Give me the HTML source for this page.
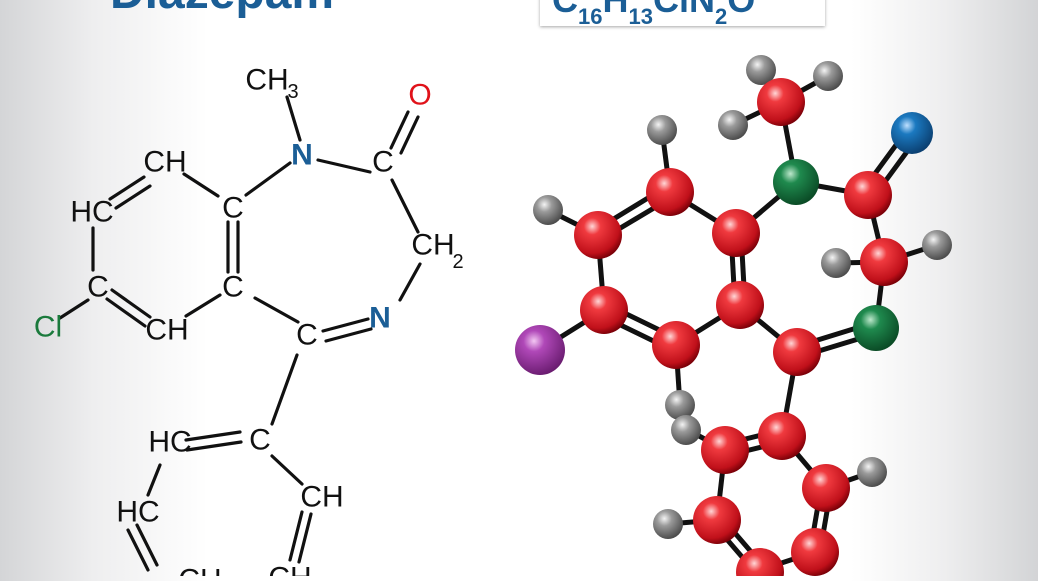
<!DOCTYPE html>
<html><head><meta charset="utf-8"><style>
html,body{margin:0;padding:0;}
body{width:1038px;height:576px;overflow:hidden;background:linear-gradient(90deg,#d4d5d7 0%,#eeeeef 9%,#fff 20%,#fff 82%,#eeeeef 91%,#d3d4d6 100%);}
</style></head><body>
<svg width="1038" height="576" viewBox="0 0 1038 576" xmlns="http://www.w3.org/2000/svg">
<defs>
<radialGradient id="r" cx="0.38" cy="0.32" r="0.7"><stop offset="0" stop-color="#ffd6d6"/><stop offset="0.25" stop-color="#f03a3f"/><stop offset="0.8" stop-color="#c0101a"/><stop offset="1" stop-color="#7a0008"/></radialGradient>
<radialGradient id="g" cx="0.38" cy="0.32" r="0.7"><stop offset="0" stop-color="#bde8cc"/><stop offset="0.3" stop-color="#1f8a4e"/><stop offset="1" stop-color="#0a4a25"/></radialGradient>
<radialGradient id="b" cx="0.38" cy="0.32" r="0.7"><stop offset="0" stop-color="#bfe0ff"/><stop offset="0.3" stop-color="#1b79c0"/><stop offset="1" stop-color="#0b3f70"/></radialGradient>
<radialGradient id="p" cx="0.38" cy="0.32" r="0.7"><stop offset="0" stop-color="#f3c7f3"/><stop offset="0.3" stop-color="#b048b8"/><stop offset="1" stop-color="#6a1c70"/></radialGradient>
<radialGradient id="h" cx="0.38" cy="0.32" r="0.7"><stop offset="0" stop-color="#f4f4f4"/><stop offset="0.35" stop-color="#9a9a9a"/><stop offset="1" stop-color="#4a4a4a"/></radialGradient>
<filter id="sh" x="-5%" y="-30%" width="110%" height="160%"><feDropShadow dx="0" dy="1" stdDeviation="1.5" flood-opacity="0.35"/></filter>
</defs>

<text x="110" y="8" font-family="Liberation Sans" font-weight="bold" font-size="48" fill="#1b5e96">Diazepam</text>
<rect x="540" y="-6" width="285" height="32" fill="#fff" filter="url(#sh)"/>
<text x="552" y="12" font-family="Liberation Sans" font-weight="bold" font-size="36" fill="#1b5e96">C<tspan font-size="22" dy="12">16</tspan><tspan dy="-12">H</tspan><tspan font-size="22" dy="12">13</tspan><tspan dy="-12">ClN</tspan><tspan font-size="22" dy="12">2</tspan><tspan dy="-12">O</tspan></text>

<g stroke="#111" stroke-width="3.2" stroke-linecap="round" fill="none">
<line x1="287" y1="97" x2="300" y2="140"/>
<line x1="318" y1="160" x2="370" y2="172"/>
<line x1="391" y1="148" x2="408" y2="112"/><line x1="401" y1="153" x2="418" y2="117"/>
<line x1="392" y1="180" x2="418" y2="232"/>
<line x1="420" y1="264" x2="400" y2="300"/>
<line x1="323" y1="331" x2="368" y2="319"/><line x1="326" y1="341" x2="371" y2="329"/>
<line x1="298" y1="322" x2="255" y2="298"/>
<line x1="228" y1="222" x2="228" y2="272"/><line x1="238" y1="222" x2="238" y2="272"/>
<line x1="246" y1="195" x2="290" y2="163"/>
<line x1="218" y1="196" x2="184" y2="174"/>
<line x1="144" y1="177" x2="110" y2="199"/><line x1="150" y1="186" x2="116" y2="208"/>
<line x1="93" y1="228" x2="93" y2="270"/>
<line x1="112" y1="290" x2="150" y2="317"/><line x1="107" y1="299" x2="145" y2="326"/>
<line x1="186" y1="316" x2="220" y2="295"/>
<line x1="60" y1="318" x2="88" y2="300"/>
<line x1="297" y1="355" x2="272" y2="424"/>
<line x1="186" y1="440" x2="240" y2="432"/><line x1="187" y1="450" x2="241" y2="442"/>
<line x1="272" y1="456" x2="302" y2="484"/>
<line x1="302" y1="512" x2="290" y2="560"/><line x1="311" y1="514" x2="299" y2="562"/>
<line x1="160" y1="465" x2="148" y2="495"/>
<line x1="128" y1="530" x2="148" y2="570"/><line x1="137" y1="525" x2="157" y2="565"/>
</g>
<g font-family="Liberation Sans" font-size="30" fill="#111" text-anchor="middle" dominant-baseline="central">
<text x="267" y="80">CH</text><text x="293" y="92" font-size="20">3</text>
<text x="420" y="95" fill="#e0121a">O</text>
<text x="302" y="155" fill="#1b5e96" font-weight="bold">N</text>
<text x="383" y="162">C</text>
<text x="165" y="162">CH</text>
<text x="92" y="212">HC</text>
<text x="233" y="208">C</text>
<text x="433" y="245">CH</text><text x="458" y="262" font-size="20">2</text>
<text x="98" y="287">C</text>
<text x="233" y="287">C</text>
<text x="48" y="327" fill="#1a7a3c">Cl</text>
<text x="167" y="330">CH</text>
<text x="307" y="335">C</text>
<text x="380" y="318" fill="#1b5e96" font-weight="bold">N</text>
<text x="260" y="440">C</text>
<text x="170" y="442">HC</text>
<text x="322" y="497">CH</text>
<text x="138" y="512">HC</text>
<text x="200" y="580">CH</text><text x="290" y="578">CH</text>
</g>

<g stroke="#111" stroke-width="5" stroke-linecap="round">
<line x1="781" y1="102" x2="761" y2="70"/><line x1="781" y1="102" x2="828" y2="76"/><line x1="781" y1="102" x2="733" y2="125"/>
<line x1="781" y1="102" x2="796" y2="182"/>
<line x1="796" y1="182" x2="736" y2="233"/><line x1="796" y1="182" x2="868" y2="195"/>
<line x1="863" y1="190" x2="907" y2="130"/><line x1="873" y1="198" x2="917" y2="138"/>
<line x1="868" y1="195" x2="884" y2="262"/>
<line x1="884" y1="262" x2="836" y2="263"/><line x1="884" y1="262" x2="937" y2="245"/>
<line x1="884" y1="262" x2="876" y2="328"/>
<line x1="876" y1="322" x2="795" y2="347"/><line x1="878" y1="333" x2="799" y2="357"/>
<line x1="797" y1="352" x2="740" y2="305"/>
<line x1="731" y1="233" x2="735" y2="305"/><line x1="741" y1="233" x2="745" y2="305"/>
<line x1="736" y1="233" x2="670" y2="192"/>
<line x1="670" y1="192" x2="662" y2="130"/>
<line x1="666" y1="187" x2="594" y2="231"/><line x1="674" y1="196" x2="602" y2="239"/>
<line x1="598" y1="235" x2="548" y2="210"/>
<line x1="598" y1="235" x2="604" y2="310"/>
<line x1="604" y1="310" x2="540" y2="350"/>
<line x1="600" y1="315" x2="672" y2="350"/><line x1="608" y1="305" x2="680" y2="340"/>
<line x1="676" y1="345" x2="740" y2="305"/>
<line x1="676" y1="345" x2="680" y2="405"/>
<line x1="797" y1="352" x2="782" y2="436"/>
<line x1="778" y1="431" x2="721" y2="445"/><line x1="786" y1="441" x2="729" y2="455"/>
<line x1="782" y1="436" x2="826" y2="488"/>
<line x1="826" y1="488" x2="872" y2="472"/>
<line x1="821" y1="488" x2="810" y2="552"/><line x1="831" y1="488" x2="820" y2="552"/>
<line x1="725" y1="450" x2="688" y2="430"/>
<line x1="725" y1="450" x2="717" y2="520"/>
<line x1="717" y1="520" x2="668" y2="524"/>
<line x1="712" y1="522" x2="755" y2="572"/><line x1="722" y1="518" x2="765" y2="568"/>
<line x1="760" y1="570" x2="815" y2="552"/>
</g>
<g>
<circle cx="761" cy="70" r="15" fill="url(#h)"/><circle cx="828" cy="76" r="15" fill="url(#h)"/><circle cx="733" cy="125" r="15" fill="url(#h)"/>
<circle cx="662" cy="130" r="15" fill="url(#h)"/><circle cx="548" cy="210" r="15" fill="url(#h)"/>
<circle cx="836" cy="263" r="15" fill="url(#h)"/><circle cx="937" cy="245" r="15" fill="url(#h)"/>
<circle cx="872" cy="472" r="15" fill="url(#h)"/>
<circle cx="680" cy="405" r="15" fill="url(#h)"/><circle cx="686" cy="430" r="15" fill="url(#h)"/>
<circle cx="668" cy="524" r="15" fill="url(#h)"/>
<circle cx="781" cy="102" r="24" fill="url(#r)"/>
<circle cx="912" cy="133" r="21" fill="url(#b)"/>
<circle cx="796" cy="182" r="23" fill="url(#g)"/>
<circle cx="868" cy="195" r="24" fill="url(#r)"/>
<circle cx="670" cy="192" r="24" fill="url(#r)"/>
<circle cx="736" cy="233" r="24" fill="url(#r)"/>
<circle cx="598" cy="235" r="24" fill="url(#r)"/>
<circle cx="884" cy="262" r="24" fill="url(#r)"/>
<circle cx="604" cy="310" r="24" fill="url(#r)"/>
<circle cx="740" cy="305" r="24" fill="url(#r)"/>
<circle cx="876" cy="328" r="23" fill="url(#g)"/>
<circle cx="540" cy="350" r="25" fill="url(#p)"/>
<circle cx="676" cy="345" r="24" fill="url(#r)"/>
<circle cx="797" cy="352" r="24" fill="url(#r)"/>
<circle cx="782" cy="436" r="24" fill="url(#r)"/>
<circle cx="725" cy="450" r="24" fill="url(#r)"/>
<circle cx="826" cy="488" r="24" fill="url(#r)"/>
<circle cx="717" cy="520" r="24" fill="url(#r)"/>
<circle cx="815" cy="552" r="24" fill="url(#r)"/>
<circle cx="760" cy="572" r="24" fill="url(#r)"/>
</g>
</svg>
</body></html>
